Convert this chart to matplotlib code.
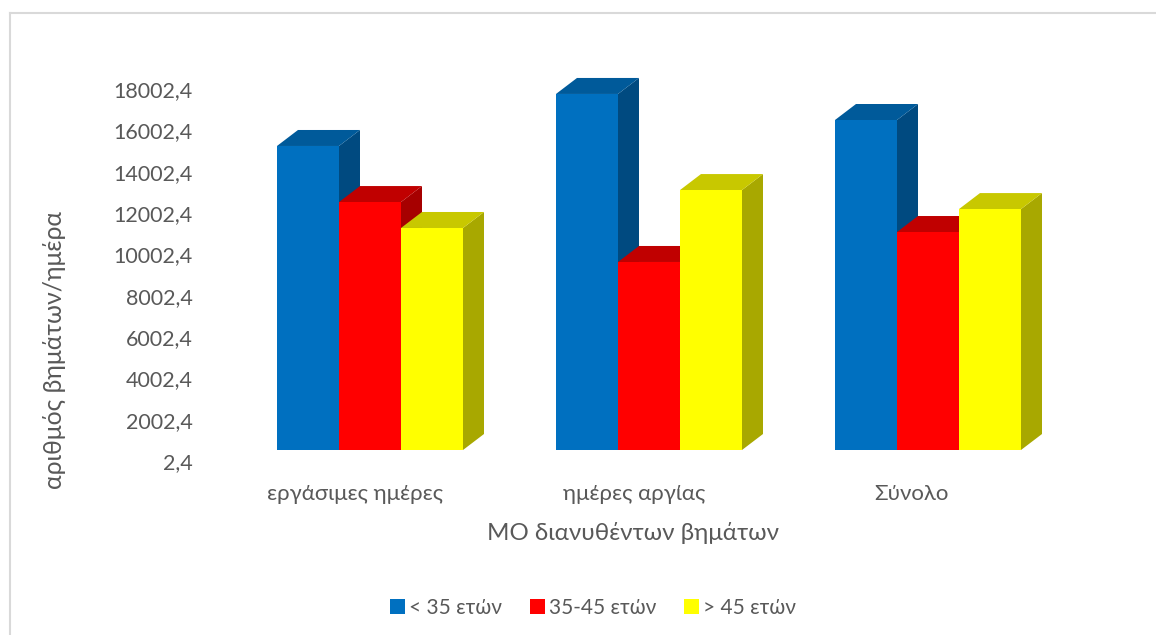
import matplotlib
matplotlib.use("Agg")
import matplotlib.pyplot as plt
from matplotlib.patches import Polygon, Rectangle
from matplotlib.transforms import ScaledTranslation

# Mean steps per day by age group
categories = ["εργάσιμες ημέρες", "ημέρες αργίας", "Σύνολο"]
under_35 = [14713, 17230, 15970]
from_35_to_45 = [12000, 9100, 10550]
over_45 = [10745, 12580, 11660]
series_names = ["< 35 ετών", "35-45 ετών", "> 45 ετών"]
y_ticks = [2.4, 2002.4, 4002.4, 6002.4, 8002.4, 10002.4, 12002.4, 14002.4, 16002.4, 18002.4]

# front, top and side colour of each series
colors = [("#0070C0", "#005A9A", "#004A80"),
          ("#FF0000", "#C00000", "#A60000"),
          ("#FFFF00", "#C8C800", "#A8A800")]

W, H = 1156, 635
plt.rcParams["font.family"] = ["Lato", "Open Sans", "DejaVu Sans"]
text_color = "#595959"

fig = plt.figure(figsize=(W / 100, H / 100), dpi=100, facecolor="w")

# chart frame, cut off at the right and the bottom edge
fig.add_artist(plt.Line2D([10 / W, 10 / W], [0, 1 - 13 / H], color="#D9D9D9", lw=1.5))
fig.add_artist(plt.Line2D([10 / W, 1], [1 - 13 / H, 1 - 13 / H], color="#D9D9D9", lw=1.5))

# plot box in pixels: one category is 279 px wide, 2000 steps are 41.33 px tall
ax = fig.add_axes([230.5 / W, 1 - 450 / H, 837 / W, 372 / H])
ax.set_xlim(-0.5, 2.5)
ax.set_ylim(2.4, 18002.4)
ax.patch.set_alpha(0)
for s in ax.spines.values():
    s.set_visible(False)

bar_w = 62 / 279
dx = 21 / 279
dy = 16 * 2000 / 41.33

for i, values in enumerate([under_35, from_35_to_45, over_45]):
    front, top, side = colors[i]
    for j, v in enumerate(values):
        x0 = j + (i - 1.5) * bar_w
        x1 = x0 + bar_w
        # draw the side first so the next series covers it
        ax.add_patch(Polygon([(x1, 2.4), (x1 + dx, 2.4 + dy), (x1 + dx, v + dy), (x1, v)],
                             facecolor=side, edgecolor="none", zorder=2 + i + j * 5, clip_on=False))
        ax.add_patch(Polygon([(x0, v), (x0 + dx, v + dy), (x1 + dx, v + dy), (x1, v)],
                             facecolor=top, edgecolor="none", zorder=2 + i + j * 5, clip_on=False))
        ax.add_patch(Rectangle((x0, 2.4), bar_w, v - 2.4, facecolor=front, edgecolor="none",
                               zorder=2.5 + i + j * 5, clip_on=False))

ax.set_yticks(y_ticks)
ax.set_yticklabels([f"{t:.1f}".replace(".", ",") for t in y_ticks], fontsize=15.5, color=text_color)
ax.set_xticks(range(3))
ax.set_xticklabels(categories, fontsize=16, color=text_color)
ax.tick_params(length=0)
ax.tick_params(axis="y", pad=0)

# the labels sit on the front edge of the floor, away from the bars
for lab in ax.get_yticklabels():
    lab.set_transform(lab.get_transform() + ScaledTranslation(-38 / 100, -11 / 100, fig.dpi_scale_trans))
for lab, shift in zip(ax.get_xticklabels(), [-15, -15, -17]):
    lab.set_transform(lab.get_transform() + ScaledTranslation(shift / 100, -29 / 100, fig.dpi_scale_trans))

fig.text(633 / W, 1 - 533 / H, "ΜΟ διανυθέντων βημάτων", fontsize=17.4, color=text_color,
         ha="center", va="center")
fig.text(54 / W, 1 - 350 / H, "αριθμός βημάτων/ημέρα", fontsize=17.8, color=text_color,
         ha="center", va="center", rotation=90)

handles = [Rectangle((0, 0), 1, 1, facecolor=c[0]) for c in colors]
fig.legend(handles, series_names, loc="center", bbox_to_anchor=(593 / W, 1 - 608 / H), ncol=3,
           frameon=False, fontsize=15, labelcolor=text_color, handlelength=0.7, handleheight=0.7,
           handletextpad=0.2, columnspacing=1.35)

fig.savefig("out.png", dpi=100)
